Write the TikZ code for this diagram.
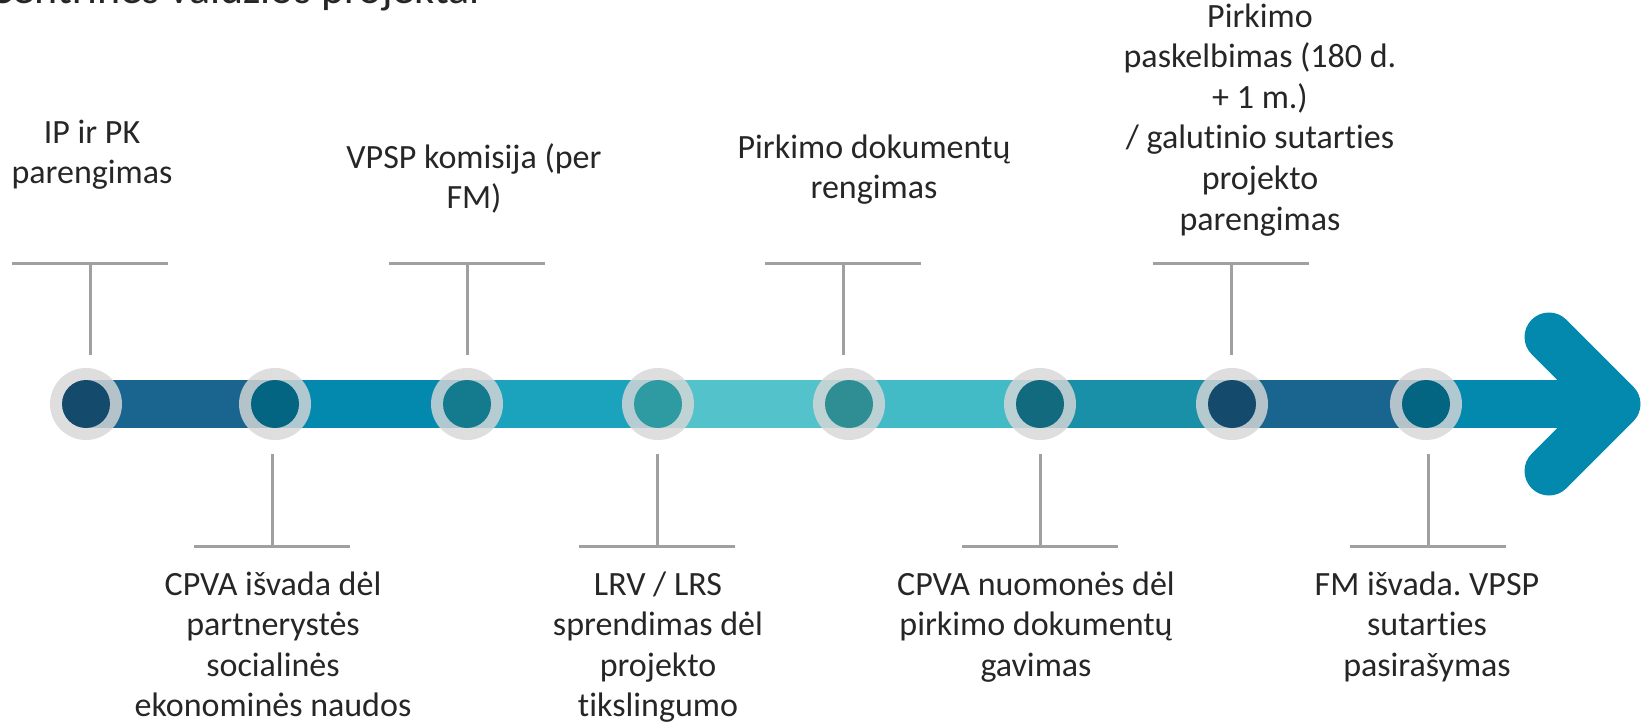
\documentclass[tikz,border=0pt]{standalone}
\usepackage{fontspec}
\setmainfont{Carlito}[Ligatures=NoCommon]
\frenchspacing
\definecolor{segA}{HTML}{19658F}
\definecolor{segB}{HTML}{0388AE}
\definecolor{segC}{HTML}{1BA3BE}
\definecolor{segD}{HTML}{53C2CB}
\definecolor{segE}{HTML}{43BBC6}
\definecolor{segF}{HTML}{1A8FA8}
\definecolor{dotA}{HTML}{144A6B}
\definecolor{dotB}{HTML}{036582}
\definecolor{dotC}{HTML}{147B8E}
\definecolor{dotD}{HTML}{2E9BA2}
\definecolor{dotE}{HTML}{2E8E94}
\definecolor{dotF}{HTML}{116A7E}
\definecolor{ringgray}{HTML}{D7D7D7}
\definecolor{leadgray}{HTML}{A0A0A0}
\definecolor{txt}{HTML}{262626}
\begin{document}
\begin{tikzpicture}[x=1pt,y=-1pt,
  ring/.style={circle,inner sep=0pt,minimum size=72pt,fill=ringgray,fill opacity=0.82},
  dot/.style={circle,inner sep=0pt,minimum size=48pt},
  leader/.style={draw=leadgray,line width=3pt},
  label/.style={align=center,inner sep=0pt,text=txt,font=\fontsize{34}{40.6}\selectfont,anchor=base}
]
\useasboundingbox (0,0) rectangle (1641,728);
\begin{scope}
\clip (0,0) rectangle (1641,728);
\node[anchor=base east,inner sep=0pt,text=txt,font=\fontsize{44}{52}\selectfont] (title) at (480,3) {Centrinės valdžios projektai};
\end{scope}
% positions
\coordinate (p1) at (86,404);
\coordinate (p2) at (275,404);
\coordinate (p3) at (467,404);
\coordinate (p4) at (658,404);
\coordinate (p5) at (849,404);
\coordinate (p6) at (1040,404);
\coordinate (p7) at (1232,404);
\coordinate (p8) at (1426,404);
\coordinate (tip) at (1616,404);
\coordinate (armtop) at (1549,337);
\coordinate (armbot) at (1549,471);
% bar
\fill[segA] ([yshift=24pt]p1) rectangle ([yshift=-24pt]p2);
\fill[segB] ([yshift=24pt]p2) rectangle ([yshift=-24pt]p3);
\fill[segC] ([yshift=24pt]p3) rectangle ([yshift=-24pt]p4);
\fill[segD] ([yshift=24pt]p4) rectangle ([yshift=-24pt]p5);
\fill[segE] ([yshift=24pt]p5) rectangle ([yshift=-24pt]p6);
\fill[segF] ([yshift=24pt]p6) rectangle ([yshift=-24pt]p7);
\fill[segA] ([yshift=24pt]p7) rectangle ([yshift=-24pt]p8);
\fill[segB] ([yshift=24pt]p8) rectangle ([yshift=-24pt]tip);
\draw[segB,line width=49pt,line cap=round,line join=round] (armtop) -- (tip) -- (armbot);
% circles
\foreach \i/\c in {1/dotA,2/dotB,3/dotC,4/dotD,5/dotE,6/dotF,7/dotA,8/dotB}{
  \node[ring] (r\i) at (p\i) {};
  \node[dot,fill=\c] (d\i) at (p\i) {};
}
% leaders top
\coordinate (t1) at (90,263);
\coordinate (t3) at (467,263);
\coordinate (t5) at (843,263);
\coordinate (t7) at (1231,263);
\foreach \k in {t1,t3,t5,t7}{
  \draw[leader] ([xshift=-78pt]\k) -- ([xshift=78pt]\k) (\k) -- ++(0,92);
}
% leaders bottom
\coordinate (b2) at (272,546);
\coordinate (b4) at (657,546);
\coordinate (b6) at (1040,546);
\coordinate (b8) at (1428,546);
\foreach \k in {b2,b4,b6,b8}{
  \draw[leader] ([xshift=-78pt]\k) -- ([xshift=78pt]\k) (\k) -- ++(0,-92);
}
% labels (anchor = baseline of last line)
\node[label] (L1) at (92,183.6) {IP ir PK\\parengimas};
\node[label] (L3) at (474,208.6) {VPSP komisija (per\\FM)};
\node[label] (L5) at (874,198.6) {Pirkimo dokumentų\\rengimas};
\node[label] (L7) at (1260,230) {Pirkimo\\paskelbimas (180 d.\\+ 1 m.)\\/ galutinio sutarties\\projekto\\parengimas};
\node[label] (L2) at (273,716.8) {CPVA išvada dėl\\partnerystės\\socialinės\\ekonominės naudos};
\node[label] (L4) at (658,716.8) {LRV / LRS\\sprendimas dėl\\projekto\\tikslingumo};
\node[label] (L6) at (1036,676.2) {CPVA nuomonės dėl\\pirkimo dokumentų\\gavimas};
\node[label] (L8) at (1427,676.2) {FM išvada. VPSP\\sutarties\\pasirašymas};
\end{tikzpicture}
\end{document}
